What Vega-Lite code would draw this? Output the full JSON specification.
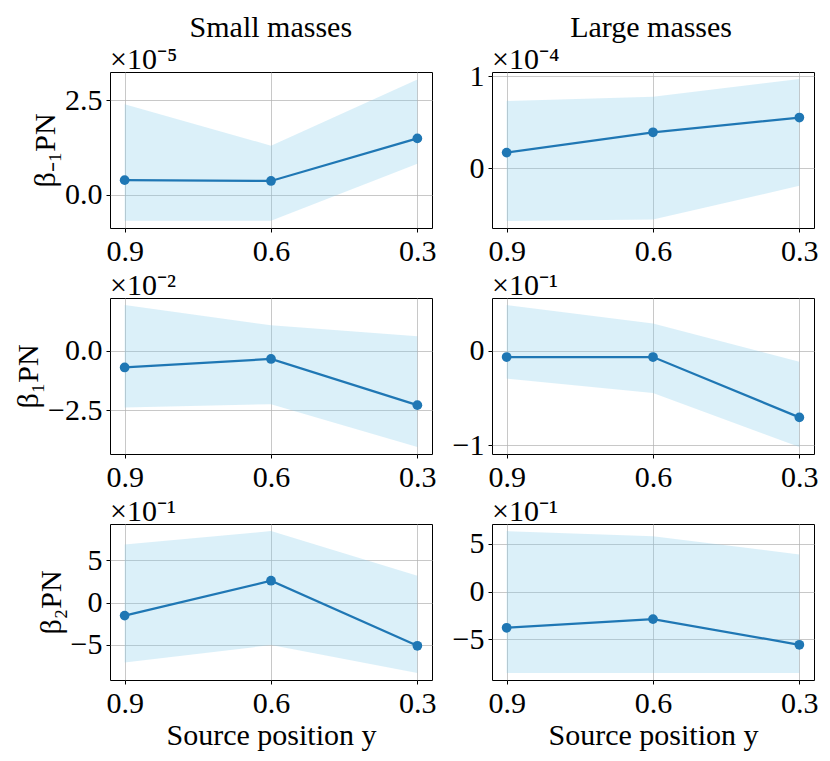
{
  "$schema": "https://vega.github.io/schema/vega-lite/v6.json",
  "background": "white",
  "padding": {"left": 13, "top": 12, "right": 5, "bottom": 5},
  "datasets": {
    "beta": [
      {"p": "a", "pos": 0.9, "m": 0.39, "lo": -0.68, "hi": 2.39},
      {"p": "a", "pos": 0.6, "m": 0.37, "lo": -0.68, "hi": 1.30},
      {"p": "a", "pos": 0.3, "m": 1.49, "lo": 0.82, "hi": 3.04},
      {"p": "b", "pos": 0.9, "m": 0.17, "lo": -0.571, "hi": 0.73},
      {"p": "b", "pos": 0.6, "m": 0.39, "lo": -0.556, "hi": 0.776},
      {"p": "b", "pos": 0.3, "m": 0.55, "lo": -0.19, "hi": 0.967},
      {"p": "c", "pos": 0.9, "m": -0.70, "lo": -2.39, "hi": 1.93},
      {"p": "c", "pos": 0.6, "m": -0.34, "lo": -2.25, "hi": 1.08},
      {"p": "c", "pos": 0.3, "m": -2.29, "lo": -4.05, "hi": 0.62},
      {"p": "d", "pos": 0.9, "m": -0.065, "lo": -0.294, "hi": 0.487},
      {"p": "d", "pos": 0.6, "m": -0.065, "lo": -0.448, "hi": 0.29},
      {"p": "d", "pos": 0.3, "m": -0.706, "lo": -1.02, "hi": -0.115},
      {"p": "e", "pos": 0.9, "m": -1.55, "lo": -7.1, "hi": 6.87},
      {"p": "e", "pos": 0.6, "m": 2.58, "lo": -5.04, "hi": 8.45},
      {"p": "e", "pos": 0.3, "m": -5.12, "lo": -8.33, "hi": 3.18},
      {"p": "f", "pos": 0.9, "m": -3.78, "lo": -8.5, "hi": 6.33},
      {"p": "f", "pos": 0.6, "m": -2.87, "lo": -8.5, "hi": 5.8},
      {"p": "f", "pos": 0.3, "m": -5.56, "lo": -8.5, "hi": 3.88}
    ]
  },
  "data": {"name": "beta"},
  "config": {
    "font": "Liberation Serif",
    "view": {"stroke": "black", "strokeWidth": 1},
    "axis": {
      "labelFont": "Liberation Serif", "labelFontSize": 30, "labelColor": "black",
      "tickColor": "black", "tickSize": 4, "tickWidth": 1, "domain": false,
      "gridColor": "#b0b0b0", "gridOpacity": 0.7, "gridWidth": 1,
      "titleFont": "Liberation Serif", "titleFontWeight": "normal", "titleFontSize": 30, "titleColor": "black",
      "labelPadding": 4
    },
    "title": {"font": "Liberation Serif", "fontSize": 30, "fontWeight": "normal", "color": "black"}
  },
  "hconcat": [
    {
      "title": {"text": "Small masses", "anchor": "middle", "fontSize": 30, "offset": 2, "dx": 46},
      "spacing": 70,
      "bounds": "flush",
      "vconcat": [
        {
          "title": {"text": "×10⁻⁵", "anchor": "start", "offset": -3, "frame": "group"},
          "width": 322, "height": 156,
          "transform": [{"filter": "datum.p == 'a'"}],
          "encoding": {
            "x": {"field": "pos", "type": "quantitative", "scale": {"domain": [0.27, 0.93], "reverse": true, "nice": false, "zero": false}, "axis": {"values": [0.9, 0.6, 0.3], "format": ".1f", "title": null}}
          },
          "layer": [
            {"mark": {"type": "area", "color": "#87ceeb", "opacity": 0.3}, "encoding": {"y": {"field": "lo", "type": "quantitative", "scale": {"domain": [-0.87, 3.24], "nice": false, "zero": false}, "axis": {"values": [0, 2.5], "format": ".1f", "title": "β₋₁PN", "titlePadding": 4}}, "y2": {"field": "hi"}}},
            {"mark": {"type": "rule", "color": "black", "strokeWidth": 1.5}, "encoding": {"y": {"datum": 0}}},
            {"mark": {"type": "line", "color": "#1f77b4", "strokeWidth": 2.2, "point": {"filled": true, "size": 95, "color": "#1f77b4", "opacity": 1}}, "encoding": {"y": {"field": "m", "type": "quantitative"}}}
          ]
        },
        {
          "title": {"text": "×10⁻²", "anchor": "start", "offset": -3, "frame": "group"},
          "width": 322, "height": 156,
          "transform": [{"filter": "datum.p == 'c'"}],
          "encoding": {
            "x": {"field": "pos", "type": "quantitative", "scale": {"domain": [0.27, 0.93], "reverse": true, "nice": false, "zero": false}, "axis": {"values": [0.9, 0.6, 0.3], "format": ".1f", "title": null}}
          },
          "layer": [
            {"mark": {"type": "area", "color": "#87ceeb", "opacity": 0.3}, "encoding": {"y": {"field": "lo", "type": "quantitative", "scale": {"domain": [-4.35, 2.23], "nice": false, "zero": false}, "axis": {"values": [-2.5, 0], "format": ".1f", "title": "β₁PN", "titlePadding": 4}}, "y2": {"field": "hi"}}},
            {"mark": {"type": "rule", "color": "black", "strokeWidth": 1.5}, "encoding": {"y": {"datum": 0}}},
            {"mark": {"type": "line", "color": "#1f77b4", "strokeWidth": 2.2, "point": {"filled": true, "size": 95, "color": "#1f77b4", "opacity": 1}}, "encoding": {"y": {"field": "m", "type": "quantitative"}}}
          ]
        },
        {
          "title": {"text": "×10⁻¹", "anchor": "start", "offset": -3, "frame": "group"},
          "width": 322, "height": 156,
          "transform": [{"filter": "datum.p == 'e'"}],
          "encoding": {
            "x": {"field": "pos", "type": "quantitative", "scale": {"domain": [0.27, 0.93], "reverse": true, "nice": false, "zero": false}, "axis": {"values": [0.9, 0.6, 0.3], "format": ".1f", "title": "Source position y", "titlePadding": 2}}
          },
          "layer": [
            {"mark": {"type": "area", "color": "#87ceeb", "opacity": 0.3}, "encoding": {"y": {"field": "lo", "type": "quantitative", "scale": {"domain": [-9.17, 9.29], "nice": false, "zero": false}, "axis": {"values": [-5, 0, 5], "format": "d", "title": "β₂PN", "titlePadding": 4}}, "y2": {"field": "hi"}}},
            {"mark": {"type": "rule", "color": "black", "strokeWidth": 1.5}, "encoding": {"y": {"datum": 0}}},
            {"mark": {"type": "line", "color": "#1f77b4", "strokeWidth": 2.2, "point": {"filled": true, "size": 95, "color": "#1f77b4", "opacity": 1}}, "encoding": {"y": {"field": "m", "type": "quantitative"}}}
          ]
        }
      ]
    },
    {
      "title": {"text": "Large masses", "anchor": "middle", "fontSize": 30, "offset": 2, "dx": 16},
      "spacing": 70,
      "bounds": "flush",
      "vconcat": [
        {
          "title": {"text": "×10⁻⁴", "anchor": "start", "offset": -14, "frame": "group"},
          "width": 322, "height": 156,
          "transform": [{"filter": "datum.p == 'b'"}],
          "encoding": {
            "x": {"field": "pos", "type": "quantitative", "scale": {"domain": [0.27, 0.93], "reverse": true, "nice": false, "zero": false}, "axis": {"values": [0.9, 0.6, 0.3], "format": ".1f", "title": null}}
          },
          "layer": [
            {"mark": {"type": "area", "color": "#87ceeb", "opacity": 0.3}, "encoding": {"y": {"field": "lo", "type": "quantitative", "scale": {"domain": [-0.648, 1.044], "nice": false, "zero": false}, "axis": {"values": [0, 1], "format": "d", "title": null}}, "y2": {"field": "hi"}}},
            {"mark": {"type": "rule", "color": "black", "strokeWidth": 1.5}, "encoding": {"y": {"datum": 0}}},
            {"mark": {"type": "line", "color": "#1f77b4", "strokeWidth": 2.2, "point": {"filled": true, "size": 95, "color": "#1f77b4", "opacity": 1}}, "encoding": {"y": {"field": "m", "type": "quantitative"}}}
          ]
        },
        {
          "title": {"text": "×10⁻¹", "anchor": "start", "offset": -3, "frame": "group"},
          "width": 322, "height": 156,
          "transform": [{"filter": "datum.p == 'd'"}],
          "encoding": {
            "x": {"field": "pos", "type": "quantitative", "scale": {"domain": [0.27, 0.93], "reverse": true, "nice": false, "zero": false}, "axis": {"values": [0.9, 0.6, 0.3], "format": ".1f", "title": null}}
          },
          "layer": [
            {"mark": {"type": "area", "color": "#87ceeb", "opacity": 0.3}, "encoding": {"y": {"field": "lo", "type": "quantitative", "scale": {"domain": [-1.095, 0.562], "nice": false, "zero": false}, "axis": {"values": [-1, 0], "format": "d", "title": null}}, "y2": {"field": "hi"}}},
            {"mark": {"type": "rule", "color": "black", "strokeWidth": 1.5}, "encoding": {"y": {"datum": 0}}},
            {"mark": {"type": "line", "color": "#1f77b4", "strokeWidth": 2.2, "point": {"filled": true, "size": 95, "color": "#1f77b4", "opacity": 1}}, "encoding": {"y": {"field": "m", "type": "quantitative"}}}
          ]
        },
        {
          "title": {"text": "×10⁻¹", "anchor": "start", "offset": -3, "frame": "group"},
          "width": 322, "height": 156,
          "transform": [{"filter": "datum.p == 'f'"}],
          "encoding": {
            "x": {"field": "pos", "type": "quantitative", "scale": {"domain": [0.27, 0.93], "reverse": true, "nice": false, "zero": false}, "axis": {"values": [0.9, 0.6, 0.3], "format": ".1f", "title": "Source position y", "titlePadding": 2}}
          },
          "layer": [
            {"mark": {"type": "area", "color": "#87ceeb", "opacity": 0.3}, "encoding": {"y": {"field": "lo", "type": "quantitative", "scale": {"domain": [-9.24, 7.07], "nice": false, "zero": false}, "axis": {"values": [-5, 0, 5], "format": "d", "title": null}}, "y2": {"field": "hi"}}},
            {"mark": {"type": "rule", "color": "black", "strokeWidth": 1.5}, "encoding": {"y": {"datum": 0}}},
            {"mark": {"type": "line", "color": "#1f77b4", "strokeWidth": 2.2, "point": {"filled": true, "size": 95, "color": "#1f77b4", "opacity": 1}}, "encoding": {"y": {"field": "m", "type": "quantitative"}}}
          ]
        }
      ]
    }
  ],
  "spacing": 14
}
